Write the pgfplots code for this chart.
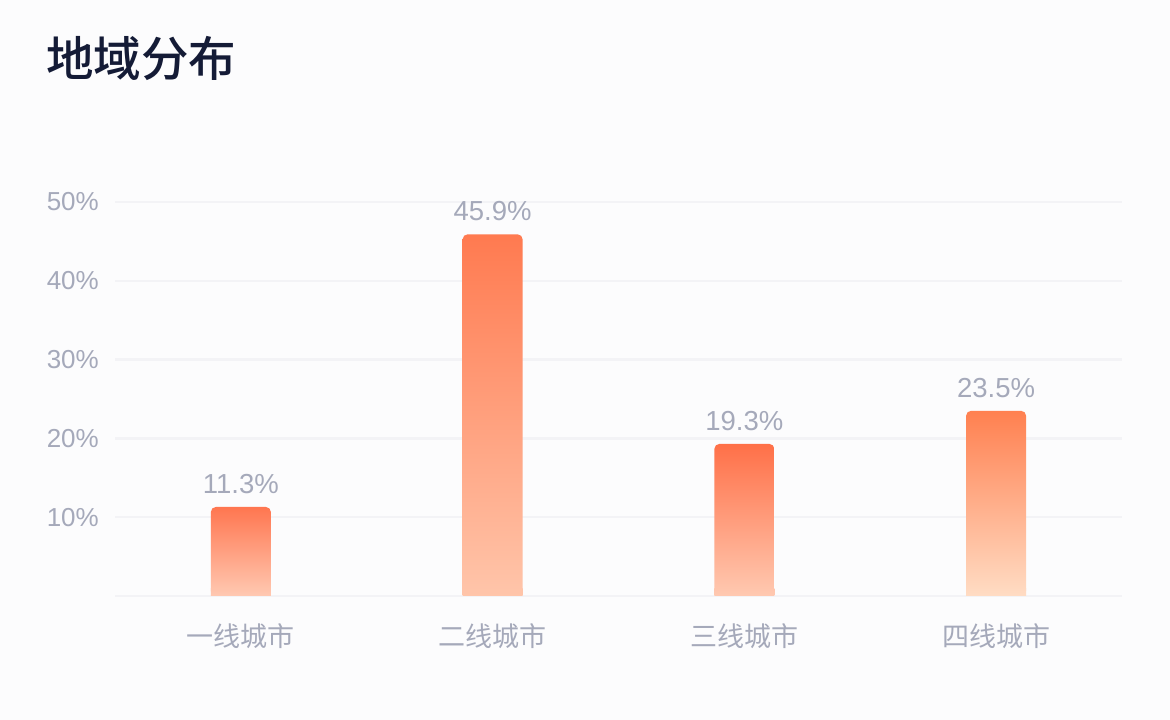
\documentclass[border=0pt]{standalone}
\usepackage{pgfplots}
\pgfplotsset{compat=1.18}
\usepackage{fontspec}
\setmainfont{Liberation Sans}
\newfontfamily\cjk{Noto Sans CJK SC}
\newfontfamily\cjkm{Noto Sans CJK SC Medium}
\definecolor{tickc}{HTML}{A5A9BA}
\definecolor{titlec}{HTML}{141B36}
\definecolor{gridc}{HTML}{F3F3F6}
\definecolor{bgc}{HTML}{FCFCFD}
\definecolor{tA}{HTML}{FF7650}\definecolor{bA}{HTML}{FFC9B2}
\definecolor{tB}{HTML}{FF7A50}\definecolor{bB}{HTML}{FFC5AA}
\definecolor{tC}{HTML}{FF7048}\definecolor{bC}{HTML}{FFC9B1}
\definecolor{tD}{HTML}{FF8050}\definecolor{bD}{HTML}{FFDCC4}
\begin{document}
\begin{tikzpicture}
\fill[bgc] (0,0) rectangle (1170pt,720pt);
\node[anchor=base west, inner sep=0pt, font=\cjkm\fontsize{47.5}{47.5}\selectfont, text=titlec] at (46pt,643pt) {地域分布};
\begin{axis}[
  at={(115pt,124pt)}, anchor=south west, scale only axis,
  width=1007pt, height=394pt,
  xmin=-0.5, xmax=3.5, ymin=0, ymax=50, clip=false,
  axis line style={draw=none}, tick style={draw=none},
  major tick length=0pt,
  ymajorgrids, grid style={gridc, line width=2.5pt},
  ytick={0,10,20,30,40,50},
  yticklabels={{},10\%,20\%,30\%,40\%,50\%},
  xtick={0,1,2,3},
  xticklabels={一线城市,二线城市,三线城市,四线城市},
  xticklabel style={font=\cjk\fontsize{27}{27}\selectfont, text=tickc, inner sep=0pt, anchor=north, yshift=-27pt},
  yticklabel style={font=\fontsize{26}{26}\selectfont, text=tickc, inner sep=0pt, anchor=east, xshift=-16pt},
  /pgf/number format/assume math mode=true,
  every axis plot/.append style={ybar, bar width=60pt, draw=none},
  vlabel/.style={
    nodes near coords={\pgfmathprintnumber[fixed,fixed zerofill,precision=1]{\pgfplotspointmeta}\%},
    every node near coord/.append style={font=\fontsize{27.5}{27.5}\selectfont, text=tickc, inner sep=0pt, anchor=south, yshift=13pt}},
]
% rounded bars with value labels
\addplot[top color=tA, bottom color=bA, rounded corners=5pt, vlabel] coordinates {(0,11.3)};
\addplot[top color=tB, bottom color=bB, rounded corners=5pt, vlabel] coordinates {(1,45.9)};
\addplot[top color=tC, bottom color=bC, rounded corners=5pt, vlabel] coordinates {(2,19.3)};
\addplot[top color=tD, bottom color=bD, rounded corners=5pt, vlabel] coordinates {(3,23.5)};
% square bottoms (same shading, clipped to the lowest part)
\begin{scope}
\clip (axis cs:-0.5,0) rectangle (axis cs:3.5,1);
\addplot[top color=tA, bottom color=bA] coordinates {(0,11.3)};
\addplot[top color=tB, bottom color=bB] coordinates {(1,45.9)};
\addplot[top color=tC, bottom color=bC] coordinates {(2,19.3)};
\addplot[top color=tD, bottom color=bD] coordinates {(3,23.5)};
\end{scope}
\end{axis}
\end{tikzpicture}
\end{document}
